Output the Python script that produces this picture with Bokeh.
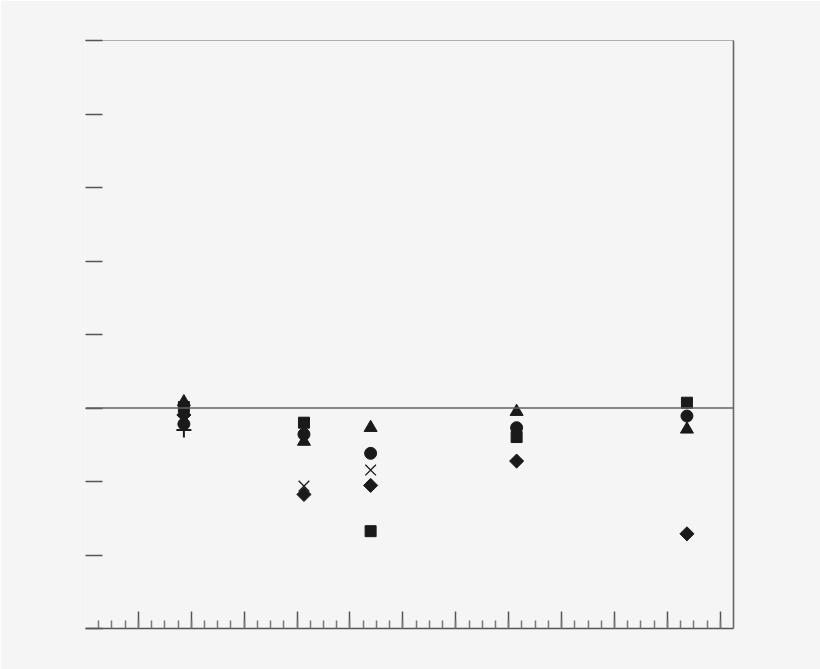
import numpy as np
from bokeh.plotting import figure
from bokeh.models import Range1d, FixedTicker, LinearAxis, Span, CustomLabelingPolicy
from bokeh.embed import file_html
from bokeh.resources import INLINE

nan = float("nan")

# Group positions along the x axis
group_x = [1.86, 4.13, 5.39, 8.15, 11.37]

# Series values (one per marker type)
square_vals = [0.014, -0.20, -1.676, -0.395, 0.072]
circle_vals = [-0.218, -0.358, -0.617, -0.268, -0.109]
triangle_vals = [0.082, -0.456, -0.268, -0.05, -0.29]
diamond_vals = [-0.095, -1.176, -1.053, -0.722, -1.712]
x_vals = [nan, -1.063, -0.845, nan, nan]
plus_vals = [-0.30, nan, nan, nan, nan]

# Tick positions
y_ticks = [-3, -2, -1, 0, 1, 2, 3, 4, 5]
x_major = list(range(1, 13))
x_minor = [i * 0.25 for i in range(1, 49)]

BG = "#f5f5f5"
INK = "#1a1a1a"
AX = "#555555"

HIDE = "for (const i of indices) indices.unset(i); return indices"

p = figure(width=820, height=669, output_backend="svg", toolbar_location=None,
           x_range=Range1d(0, 12.25), y_range=Range1d(-3, 5),
           frame_width=648, frame_height=588,
           min_border_left=85, min_border_right=87,
           min_border_top=40, min_border_bottom=41,
           x_axis_location=None, y_axis_location=None)
p.background_fill_color = BG
p.border_fill_color = BG
p.outline_line_color = None
p.xgrid.visible = False
p.ygrid.visible = False

# bottom axis
xb = LinearAxis(ticker=FixedTicker(ticks=x_major, minor_ticks=x_minor),
                major_label_policy=CustomLabelingPolicy(code=HIDE))
xb.axis_line_color = AX
xb.axis_line_width = 1.5
xb.major_tick_in = 17
xb.major_tick_out = 0
xb.minor_tick_in = 8
xb.minor_tick_out = 0
xb.major_tick_line_color = AX
xb.minor_tick_line_color = "#777777"
xb.major_tick_line_width = 1.5
xb.minor_tick_line_width = 1.5
xb.major_label_text_font_size = "8px"
xb.major_label_standoff = 0
p.add_layout(xb, "below")

# left axis
yl = LinearAxis(ticker=FixedTicker(ticks=y_ticks, minor_ticks=[]),
                major_label_policy=CustomLabelingPolicy(code=HIDE))
yl.axis_line_color = None
yl.major_tick_in = 17
yl.major_tick_out = 0
yl.major_tick_line_color = AX
yl.major_tick_line_width = 1.5
yl.minor_tick_line_color = None
yl.major_label_text_font_size = "8px"
yl.major_label_standoff = 0
p.add_layout(yl, "left")

# top border
xt = LinearAxis(ticker=FixedTicker(ticks=[], minor_ticks=[]))
xt.axis_line_color = "#b0b0b0"
xt.axis_line_width = 1.2
xt.major_tick_line_color = None
xt.minor_tick_line_color = None
xt.major_label_standoff = 0
p.add_layout(xt, "above")

# right border
yr = LinearAxis(ticker=FixedTicker(ticks=[], minor_ticks=[]))
yr.axis_line_color = "#666666"
yr.axis_line_width = 1.6
yr.major_tick_line_color = None
yr.minor_tick_line_color = None
yr.major_label_standoff = 0
p.add_layout(yr, "right")

# zero line
p.add_layout(Span(location=0, dimension="width", line_color="#606060", line_width=1.5))

# markers
p.scatter(group_x, diamond_vals, marker="square", angle=np.pi / 4, size=10,
          fill_color=INK, line_color=INK)
p.scatter(group_x, x_vals, marker="x", size=15, line_color=INK, line_width=1.3)
p.scatter(group_x, plus_vals, marker="cross", size=15, line_color=INK, line_width=2)
p.scatter(group_x, circle_vals, marker="circle", size=12, fill_color=INK, line_color=INK)
p.scatter(group_x, square_vals, marker="square", size=11, fill_color=INK, line_color=INK)
p.scatter(group_x, triangle_vals, marker="triangle", size=13, fill_color=INK, line_color=INK)

open("out.html", "w").write(file_html(p, INLINE))
